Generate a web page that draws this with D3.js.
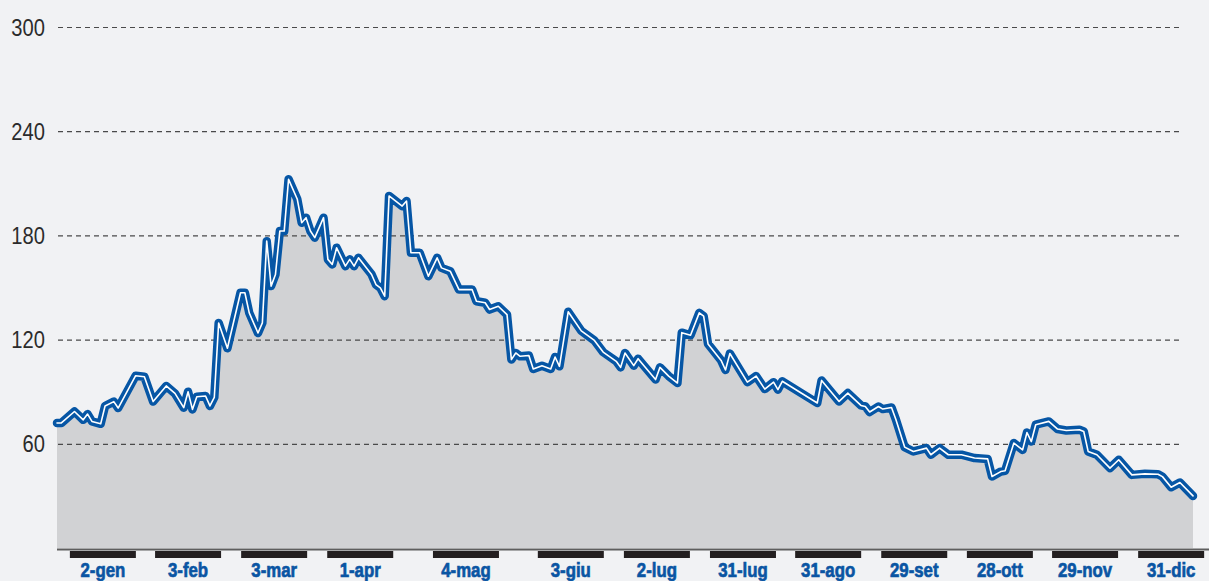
<!DOCTYPE html>
<html>
<head>
<meta charset="utf-8">
<script src="https://cdn.jsdelivr.net/npm/d3@7"></script>
<style>
  html, body { margin: 0; padding: 0; background: #f1f2f4; }
  svg { display: block; }
</style>
</head>
<body>
<svg id="chart" width="1209" height="581"></svg>
<script>
// ---- DATA ----
const sessions = [0,1,4,6,7,8,10,11,13,14,18,20,22,25,27,29,30,31,32,34,35,36,37,39,42,43,44,46,47,48,49,50,51,52,53,55,56,57,58,59,61,62,63,64,66,67,68,69,72,73,74,75,76,79,80,81,83,85,87,88,90,92,95,96,98,99,101,103,104,105,106,108,109,111,113,114,115,117,120,123,125,128,129,130,132,133,134,137,138,140,142,143,145,147,148,149,152,153,154,158,160,162,164,165,166,174,175,179,181,184,185,186,188,189,191,192,194,196,199,200,202,204,207,210,213,214,216,217,219,221,222,223,224,227,229,231,234,235,236,238,241,243,246,249,252,253,255,257,260];
const values = [72,72,78.6,73.8,77.1,72.9,71.5,81.8,84.3,80.6,99.2,98.6,84.3,93.3,89,80.8,90,79.8,87.1,87.5,81.8,86.7,129.6,115,147,147,135.4,123.8,129.6,176.7,150.8,157.5,182.5,182.5,212.3,200.8,187.3,190.2,182.5,178.7,190.2,166.2,163.3,172.9,162.3,166.2,162.3,167.1,157.5,151.7,149.8,145,202.7,196.9,199.8,170,170,156.5,167.1,161.3,159.4,148.8,148.8,142.1,141.2,137.3,139.2,134.4,108.5,112.3,110.4,110.8,103.1,105,103.1,110,104.6,136,125,119.5,112.8,107.5,104,112.3,105,109,106,97,104,99,95,124,122.5,135.4,133.5,117.5,108,102.5,112,95.5,99,91.5,95.5,91.2,96,83.5,96.5,84.4,89.2,82.1,81.5,78.3,81.5,80,80.9,74,58.1,55.6,57.5,53.7,57.5,53.7,53.7,51.8,51.3,41.2,44,44.5,60.4,56.5,66.5,61.3,71,72.9,68.5,67.7,68.1,67.1,55.6,53.7,46,50.8,42.1,42.7,42.5,41.1,35,37.7,30];
const yTicks = [60, 120, 180, 240, 300];
const xTickLabels = ["2-gen","3-feb","3-mar","1-apr","4-mag","3-giu","2-lug","31-lug","31-ago","29-set","28-ott","29-nov","31-dic"];
const xTickSessions = [10.5,30,49.7,69.4,93.6,117.6,137.3,157,176.5,196.2,215.8,235.3,255];

// ---- CHART ----
const svg = d3.select("#chart");
const W = 1209, H = 581;
svg.append("rect").attr("width", W).attr("height", H).attr("fill", "#f1f2f4");

const x = d3.scaleLinear().domain([0, 260]).range([57, 1193]);
const y = d3.scaleLinear().domain([0, 300]).range([548, 27]);

const data = sessions.map((s, i) => ({ s, v: values[i] }));

// area
const area = d3.area().x(d => x(d.s)).y0(y(0)).y1(d => y(d.v));
svg.append("path").datum(data).attr("d", area).attr("fill", "#d1d2d4");

// gridlines
svg.append("g").selectAll("line").data(yTicks).join("line")
  .attr("x1", 58).attr("x2", 1183)
  .attr("y1", d => y(d) + 0.5).attr("y2", d => y(d) + 0.5)
  .attr("stroke", "#4a4a4a").attr("stroke-width", 1.2)
  .attr("stroke-dasharray", "5,4");

// y labels (condensed via horizontal scaling)
svg.append("g").selectAll("text").data(yTicks).join("text")
  .attr("transform", d => `translate(45,${y(d) + 8.5}) scale(0.84,1)`)
  .attr("text-anchor", "end")
  .attr("font-family", "'Liberation Sans', Arial, sans-serif")
  .attr("font-size", 24)
  .attr("fill", "#2b2b2b")
  .text(d => d);

// line: thick blue with thin white core
const line = d3.line().x(d => x(d.s)).y(d => y(d.v));
svg.append("path").datum(data).attr("d", line)
  .attr("fill", "none").attr("stroke", "#0656a5").attr("stroke-width", 8.5)
  .attr("stroke-linejoin", "round").attr("stroke-linecap", "round");
svg.append("path").datum(data).attr("d", line)
  .attr("fill", "none").attr("stroke", "#ffffff").attr("stroke-width", 1.6)
  .attr("stroke-linejoin", "round").attr("stroke-linecap", "round");

// baseline
svg.append("line").attr("x1", 57).attr("x2", W).attr("y1", 549.5).attr("y2", 549.5)
  .attr("stroke", "#5e5e5e").attr("stroke-width", 2);

// x-axis bars and labels
const xg = svg.append("g");
xg.selectAll("rect").data(xTickSessions).join("rect")
  .attr("x", d => x(d) - 33).attr("y", 551).attr("width", 66).attr("height", 7)
  .attr("fill", "#231f20");
xg.selectAll("text").data(xTickLabels).join("text")
  .attr("transform", (d, i) => `translate(${x(xTickSessions[i])},577) scale(0.8,1)`)
  .attr("text-anchor", "middle")
  .attr("font-family", "'Liberation Sans', Arial, sans-serif")
  .attr("font-weight", "bold")
  .attr("font-size", 21)
  .attr("stroke", "#0a55a3").attr("stroke-width", 0.7)
  .attr("fill", "#0a55a3")
  .text(d => d);
</script>
</body>
</html>
